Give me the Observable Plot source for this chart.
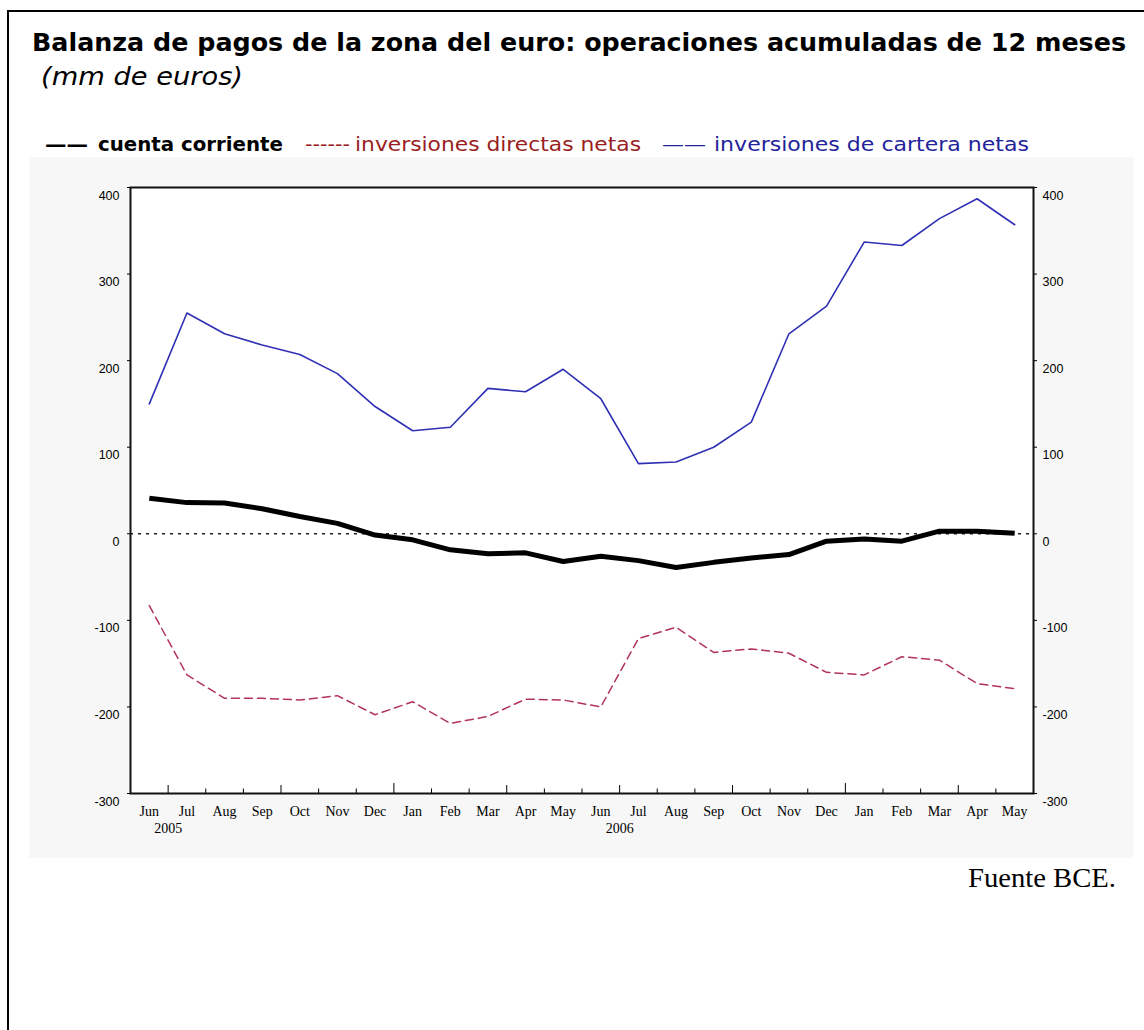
<!DOCTYPE html>
<html>
<head>
<meta charset="utf-8">
<script src="https://cdn.jsdelivr.net/npm/d3@7"></script>
<script src="https://cdn.jsdelivr.net/npm/@observablehq/plot@0.6"></script>
<style>
  html, body { margin: 0; padding: 0; background: #fff; }
  body { position: relative; width: 1144px; height: 1030px; overflow: hidden; }
  #border { position: absolute; left: 7px; top: 10px; width: 1300px; height: 1200px; border-left: 2px solid #000; border-top: 2px solid #000; }
  #chart { position: absolute; left: 29px; top: 157px; }
  .txt { position: absolute; top: 0; white-space: pre; line-height: 1; transform-origin: 0 0; }
</style>
</head>
<body>
<div id="border"></div>
<div id="chart"></div>
<script>
// ---- data (mm de euros, 12-month cumulated) ----
const monthLabels = ["Jun","Jul","Aug","Sep","Oct","Nov","Dec","Jan","Feb","Mar","Apr","May",
                     "Jun","Jul","Aug","Sep","Oct","Nov","Dec","Jan","Feb","Mar","Apr","May"];
const yearLabels = ["2005", "2006"];
const yearMonthIndex = [0, 12];
const cuentaCorriente = [41, 36, 35.5, 29, 20, 12, -1.5, -7, -18.5, -23, -22, -32,
                         -26, -31, -39, -33, -28, -24, -8.5, -6, -8.5, 3, 3, 0.5];
const inversionesDirectas = [-83, -163, -190, -190, -192, -187, -209, -194, -219, -211, -191, -192,
                             -200, -121, -108, -137, -133, -138, -160, -163, -142, -146, -173, -179];
const inversionesCartera = [150, 255, 231, 218, 207, 185, 147, 119, 123, 168, 164, 190,
                            156, 81, 83, 100, 129, 231, 263, 337, 333, 364, 387, 357];
const yTicks = [-300, -200, -100, 0, 100, 200, 300, 400];

const series = [
  {name: "inversiones directas netas", values: inversionesDirectas, color: "#b23262", width: 1.5, dash: "8,5"},
  {name: "inversiones de cartera netas", values: inversionesCartera, color: "#3030b4", width: 1.6, dash: null},
  {name: "cuenta corriente", values: cuentaCorriente, color: "#000000", width: 5, dash: null}
];

const idx = d3.range(monthLabels.length);
// month boundaries (between consecutive months)
const boundaries = d3.range(monthLabels.length - 1).map(i => ({pos: i + 0.5, next: monthLabels[i + 1]}));
const yearB = boundaries.filter(b => b.next === "Jan").map(b => b.pos);
const quarterB = boundaries.filter(b => ["Apr", "Jul", "Oct"].includes(b.next)).map(b => b.pos);
const minorB = boundaries.filter(b => !["Jan", "Apr", "Jul", "Oct"].includes(b.next)).map(b => b.pos);
const yearTickPos = yearMonthIndex.map(i => i + 0.5);

const monthFont = "'Liberation Serif', serif";
const numFont = "'Liberation Sans', Arial, sans-serif";

const chart = Plot.plot({
  width: 1104,
  height: 701,
  marginLeft: 101,
  marginRight: 100,
  marginTop: 30,
  marginBottom: 65,
  style: {background: "#f7f7f7", color: "#000", fontFamily: numFont, fontSize: "12px", overflow: "visible"},
  x: {type: "linear", domain: [-0.5, monthLabels.length - 0.5], axis: null},
  y: {domain: [-300, 400], axis: null},
  marks: [
    Plot.frame({fill: "#fff", stroke: null}),
    Plot.ruleY([0], {stroke: "#222", strokeWidth: 1.5, strokeDasharray: "3,5"}),
    ...series.map(s => Plot.line(s.values, {
      x: (d, i) => i, y: d => d,
      stroke: s.color, strokeWidth: s.width,
      strokeDasharray: s.dash, strokeLinejoin: "round", strokeLinecap: s.width > 3 ? "butt" : "round"
    })),
    Plot.frame({stroke: "#111", strokeWidth: 2}),
    // y axes: ticks
    Plot.axisY(yTicks, {anchor: "left", tickSize: 3, tickFormat: () => ""}),
    Plot.axisY(yTicks, {anchor: "right", tickSize: 3, tickFormat: () => ""}),
    // y axes: labels (plain hyphen minus as in the original)
    Plot.axisY(yTicks, {anchor: "left", tickSize: 0, tickPadding: 11, dy: 8, tickFormat: d => String(d), fontFamily: numFont, fontSize: 12.5}),
    Plot.axisY(yTicks, {anchor: "right", tickSize: 0, tickPadding: 9, dy: 8, tickFormat: d => String(d), fontFamily: numFont, fontSize: 12.5}),
    // x axis: month-boundary ticks (inward)
    Plot.axisX(minorB, {anchor: "bottom", tickSize: -4.5, tickFormat: () => ""}),
    Plot.axisX(quarterB, {anchor: "bottom", tickSize: -8, tickFormat: () => ""}),
    Plot.axisX(yearB, {anchor: "bottom", tickSize: -10, tickFormat: () => ""}),
    // x axis: month labels
    Plot.axisX(idx, {anchor: "bottom", tickSize: 0, tickPadding: 13, tickFormat: i => monthLabels[i], fontFamily: monthFont, fontSize: 14}),
    // x axis: year labels
    Plot.axisX(yearTickPos, {anchor: "bottom", tickSize: 0, tickPadding: 30, tickFormat: d => yearLabels[yearTickPos.indexOf(d)], fontFamily: monthFont, fontSize: 14})
  ]
});
document.getElementById("chart").appendChild(chart);

// ---- text outside the plot ----
function placeText(txt, x, baseline, width, font, color) {
  const d = document.createElement("div");
  d.className = "txt";
  d.style.left = x + "px";
  d.style.font = font;
  d.style.lineHeight = "1";
  d.style.color = color;
  d.textContent = txt;
  const m = document.createElement("span");
  m.style.display = "inline-block";
  m.style.width = "0";
  m.style.height = "0";
  m.style.verticalAlign = "baseline";
  d.appendChild(m);
  document.body.appendChild(d);
  d.style.top = (baseline - m.offsetTop) + "px";
  const w = d.getBoundingClientRect().width;
  if (width && w > 0) d.style.transform = `scaleX(${width / w})`;
  return d;
}
const sans = "'DejaVu Sans', Verdana, sans-serif";
const redText = "#9a1e22";
const blueText = "#23239a";
placeText("Balanza de pagos de la zona del euro: operaciones acumuladas de 12 meses", 32, 51, 1094, `bold 24px ${sans}`, "#000");
placeText("(mm de euros)", 41, 85, 202, `italic 25px ${sans}`, "#000");
placeText("\u2014\u2014", 45, 151, 43, `bold 20px ${sans}`, "#000");
placeText(series[2].name, 98, 151, 185, `bold 20px ${sans}`, "#000");
placeText("------", 305, 151, 45, `20px ${sans}`, redText);
placeText(series[0].name, 355, 151, 286, `20px ${sans}`, redText);
placeText("\u2014\u2014", 662, 151, 44, `20px ${sans}`, blueText);
placeText(series[1].name, 714, 151, 315, `20px ${sans}`, blueText);
placeText("Fuente BCE.", 968, 887, 148, `28px 'Liberation Serif', 'Times New Roman', serif`, "#000");
</script>
</body>
</html>
